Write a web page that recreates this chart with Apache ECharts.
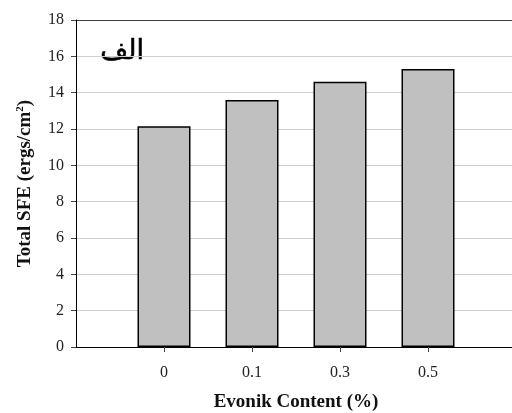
<!DOCTYPE html>
<html><head><meta charset="utf-8">
<script src="https://cdn.jsdelivr.net/npm/echarts@6/dist/echarts.min.js"></script>
<style>html,body{margin:0;padding:0;background:#fff}#c{width:512px;height:413px}</style>
</head><body><div id="c"></div>
<script>
const categories = ['0', '0.1', '0.3', '0.5'];
const values = [12.15, 13.6, 14.6, 15.3];
const yTicks = [0, 2, 4, 6, 8, 10, 12, 14, 16, 18];
const xName = 'Evonik Content (%)';
const yName = 'Total SFE (ergs/cm{sup|2})';
const panelLabel = 'الف';

const paddedCats = [''].concat(categories, ['']);
const paddedVals = [null].concat(values, [null]);
const splitColors = yTicks.map((v, i) => i === yTicks.length - 1 ? '#404040' : '#cfcfcf');
const serif = '"Liberation Serif", "Times New Roman", serif';

const chart = echarts.init(document.getElementById('c'), null, {renderer: 'canvas'});
chart.setOption({
  animation: false,
  backgroundColor: '#fff',
  grid: {left: 76, top: 20, width: 440, bottom: 66, show: false, outerBoundsMode: 'none'},
  xAxis: {
    type: 'category',
    data: paddedCats,
    boundaryGap: false,
    axisLine: {lineStyle: {color: '#000', width: 1}},
    axisTick: {show: true, length: 5, interval: (i, v) => v !== '', lineStyle: {color: '#444'}},
    axisLabel: {interval: 0, color: '#222', fontFamily: serif, fontSize: 16, margin: 18},
    splitLine: {show: false},
    name: xName,
    nameLocation: 'middle',
    nameGap: 46,
    nameTextStyle: {color: '#111', fontFamily: serif, fontSize: 19, fontWeight: 'bold'}
  },
  yAxis: {
    type: 'value',
    min: 0, max: 18, interval: 2,
    axisLine: {show: true, lineStyle: {color: '#000', width: 1}},
    axisTick: {show: true, length: 5, lineStyle: {color: '#444'}},
    axisLabel: {color: '#222', fontFamily: serif, fontSize: 16, margin: 12},
    splitLine: {show: true, lineStyle: {color: splitColors, width: 1}},
    name: yName,
    nameLocation: 'middle',
    nameGap: 40,
    nameTextStyle: {color: '#111', fontFamily: serif, fontSize: 19, fontWeight: 'bold',
      rich: {sup: {fontFamily: serif, fontSize: 11, fontWeight: 'bold', verticalAlign: 'top', padding: [0, 0, 10, 0]}}}
  },
  series: [{
    type: 'bar',
    data: paddedVals,
    barWidth: 53,
    itemStyle: {color: '#c0c0c0', borderColor: '#000', borderWidth: 1.5}
  }],
  graphic: [{
    type: 'text',
    left: 100, top: 38,
    style: {text: panelLabel, fontSize: 27, fontFamily: '"DejaVu Sans", sans-serif', fill: '#000', stroke: '#000', lineWidth: 0.6}
  }]
});
</script></body></html>
